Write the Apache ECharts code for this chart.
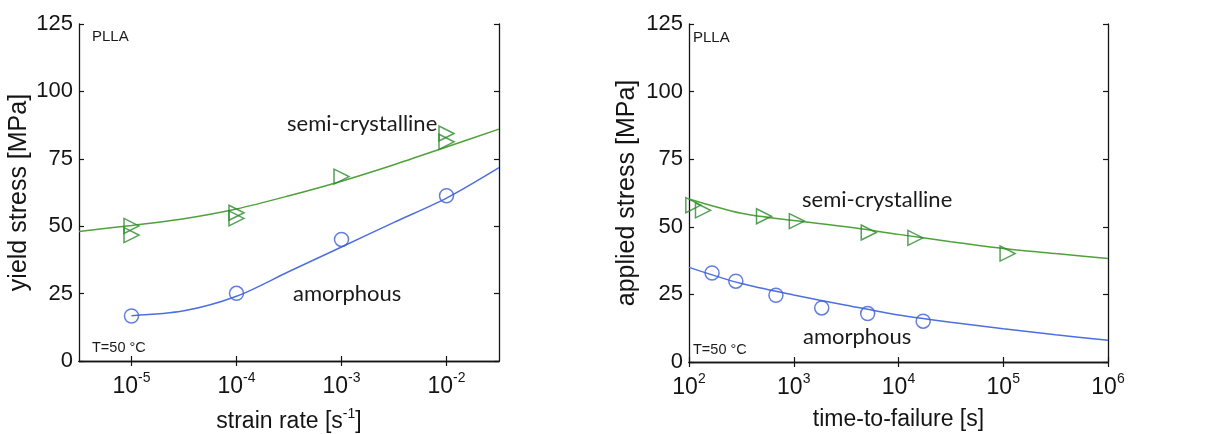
<!DOCTYPE html>
<html>
<head>
<meta charset="utf-8">
<title>PLLA yield and applied stress</title>
<script src="https://cdn.jsdelivr.net/npm/echarts@6/dist/echarts.min.js"></script>
<style>
  html, body { margin: 0; padding: 0; background: #ffffff; }
  #chart { width: 1209px; height: 434px; }
</style>
</head>
<body>
<div id="chart"></div>
<script>
// ---- Left panel: yield stress vs strain rate ----
const strainRateTicks = [1e-5, 1e-4, 1e-3, 1e-2];
const semiRate = [1e-5, 1e-5, 1e-4, 1e-4, 1e-3, 1e-2, 1e-2];
const semiYield = [50.1, 46.7, 55.0, 52.9, 68.4, 84.4, 81.3];
const amorRate = [1e-5, 1e-4, 1e-3, 1e-2];
const amorYield = [16.7, 25.1, 45.1, 61.3];
// model curves read at half-decade steps
const semiFitRate = [3.162e-6, 1e-5, 3.162e-5, 1e-4, 3.162e-4, 1e-3, 3.162e-3, 1e-2, 3.162e-2];
const semiFitYield = [48.0, 50.3, 52.8, 56.4, 61.3, 66.7, 72.8, 79.4, 86.0];
const amorFitRate = [1e-5, 3.162e-5, 1e-4, 3.162e-4, 1e-3, 3.162e-3, 1e-2, 3.162e-2];
const amorFitYield = [16.8, 18.6, 24.0, 33.2, 42.3, 51.4, 60.4, 71.7];

// ---- Right panel: applied stress vs time-to-failure ----
const timeTicks = [1e2, 1e3, 1e4, 1e5, 1e6];
const semiTime = [110, 136, 520, 1070, 5200, 14500, 110000];
const semiStress = [58.0, 56.1, 53.9, 52.1, 47.9, 45.9, 40.1];
const amorTime = [166, 280, 676, 1850, 5080, 17200];
const amorStress = [32.9, 29.9, 24.7, 20.0, 17.9, 15.1];
const semiFitTime = [1e2, 3.162e2, 1e3, 3.162e3, 1e4, 3.162e4, 1e5, 3.162e5, 1e6];
const semiFitStress = [60.3, 55.0, 52.3, 50.0, 47.2, 44.5, 42.0, 40.1, 38.3];
const amorFitTime = [1e2, 3.162e2, 1e3, 3.162e3, 1e4, 3.162e4, 1e5, 3.162e5, 1e6];
const amorFitStress = [35.0, 29.0, 24.8, 21.0, 17.4, 14.7, 12.3, 10.1, 8.0];

const yTicks = [0, 25, 50, 75, 100, 125];

const GREEN_LINE = '#4fa23a';
const GREEN_MARK = '#2c8a2e';
const BLUE_LINE = '#4d6fe0';
const BLUE_MARK = '#3e5fd4';
const AXIS = '#141414';
const FONT = '"Liberation Sans", Arial, sans-serif';
const NOTE_FONT = 'Lato, "Open Sans", sans-serif';

const zip = (xs, ys) => xs.map((x, i) => [x, ys[i]]);

function powLabel(v) {
  const e = Math.round(Math.log10(v));
  return '{b|10}{s|' + e + '}';
}
const powRich = {
  b: { fontSize: 23, fontFamily: FONT, color: AXIS, lineHeight: 32 },
  s: { fontSize: 14, fontFamily: FONT, color: AXIS, lineHeight: 12, verticalAlign: 'top' }
};

function xAxes(grid, lo, hi, ticks, name) {
  const base = {
    type: 'log', logBase: 10, gridIndex: grid, min: lo, max: hi,
    axisLine: { show: true, lineStyle: { color: AXIS, width: 1.3 } },
    axisTick: { show: true, inside: true, length: 5, customValues: ticks, lineStyle: { color: AXIS, width: 1.2 } },
    minorTick: { show: false }, splitLine: { show: false }, minorSplitLine: { show: false }
  };
  return [
    Object.assign({}, base, {
      position: 'bottom',
      name: name, nameLocation: 'middle', nameGap: 46,
      nameTextStyle: {
        fontFamily: FONT, fontSize: 23, color: AXIS,
        rich: {
          t: { fontFamily: FONT, fontSize: 23, color: AXIS, lineHeight: 30 },
          s: { fontFamily: FONT, fontSize: 14, color: AXIS, lineHeight: 12, verticalAlign: 'top' }
        }
      },
      axisLabel: { show: true, customValues: ticks, margin: 10, formatter: powLabel, rich: powRich }
    }),
    Object.assign({}, base, { position: 'top', axisLabel: { show: false } })
  ];
}

function yAxes(grid, name, gap) {
  const base = {
    type: 'value', gridIndex: grid, min: 0, max: 125, interval: 25,
    axisLine: { show: true, lineStyle: { color: AXIS, width: 1.3 } },
    axisTick: { show: true, inside: true, length: 5, lineStyle: { color: AXIS, width: 1.2 } },
    splitLine: { show: false }
  };
  return [
    Object.assign({}, base, {
      position: 'left',
      name: name, nameLocation: 'middle', nameGap: gap,
      nameTextStyle: { fontFamily: FONT, fontSize: 25, color: AXIS },
      axisLabel: {
        show: true, margin: 6, fontFamily: FONT, fontSize: 22, color: AXIS,
        customValues: yTicks
      }
    }),
    Object.assign({}, base, { position: 'right', axisLabel: { show: false } })
  ];
}

function fitLine(x, y, xi, yi, color) {
  return {
    type: 'line', xAxisIndex: xi, yAxisIndex: yi, data: zip(x, y),
    smooth: 0.3, showSymbol: false, silent: true,
    lineStyle: { color: color, width: 1.5 }, z: 2
  };
}
function marks(x, y, xi, yi, symbol, color) {
  return {
    type: 'scatter', xAxisIndex: xi, yAxisIndex: yi, data: zip(x, y),
    symbol: symbol, symbolSize: symbol === 'circle' ? 14 : 15,
    symbolRotate: symbol === 'triangle' ? -90 : 0,
    itemStyle: { color: 'rgba(0,0,0,0)', borderColor: color, borderWidth: 1.5 },
    z: 3
  };
}

function note(text, left, top, size, family) {
  return {
    type: 'text', left: left, top: top, silent: true,
    style: { text: text, fill: '#1a1a1a', font: size + 'px ' + family }
  };
}

const chart = echarts.init(document.getElementById('chart'), null, { renderer: 'canvas' });
chart.setOption({
  backgroundColor: '#ffffff',
  animation: false,
  grid: [
    { left: 79, top: 24, width: 420, height: 337, outerBoundsMode: 'none', containLabel: false },
    { left: 689, top: 24, width: 419, height: 338, outerBoundsMode: 'none', containLabel: false }
  ],
  xAxis: [].concat(
    xAxes(0, Math.pow(10, -5.5), Math.pow(10, -1.5), strainRateTicks, '{t|strain rate [s}{s|-1}{t|]}'),
    xAxes(1, 1e2, 1e6, timeTicks, 'time-to-failure [s]')
  ),
  yAxis: [].concat(
    yAxes(0, 'yield stress [MPa]', 47),
    yAxes(1, 'applied stress [MPa]', 49)
  ),
  series: [
    fitLine(semiFitRate, semiFitYield, 0, 0, GREEN_LINE),
    fitLine(amorFitRate, amorFitYield, 0, 0, BLUE_LINE),
    marks(semiRate, semiYield, 0, 0, 'triangle', GREEN_MARK),
    marks(amorRate, amorYield, 0, 0, 'circle', BLUE_MARK),
    fitLine(semiFitTime, semiFitStress, 2, 2, GREEN_LINE),
    fitLine(amorFitTime, amorFitStress, 2, 2, BLUE_LINE),
    marks(semiTime, semiStress, 2, 2, 'triangle', GREEN_MARK),
    marks(amorTime, amorStress, 2, 2, 'circle', BLUE_MARK)
  ],
  graphic: [
    note('PLLA', 92, 29, 15, FONT),
    note('T=50 °C', 92, 340, 14.5, FONT),
    note('semi-crystalline', 287, 113, 22, NOTE_FONT),
    note('amorphous', 293, 283, 22, NOTE_FONT),
    note('PLLA', 693, 30, 15, FONT),
    note('T=50 °C', 693, 342, 14.5, FONT),
    note('semi-crystalline', 802, 189, 22, NOTE_FONT),
    note('amorphous', 803, 326, 22, NOTE_FONT)
  ]
});
</script>
</body>
</html>
